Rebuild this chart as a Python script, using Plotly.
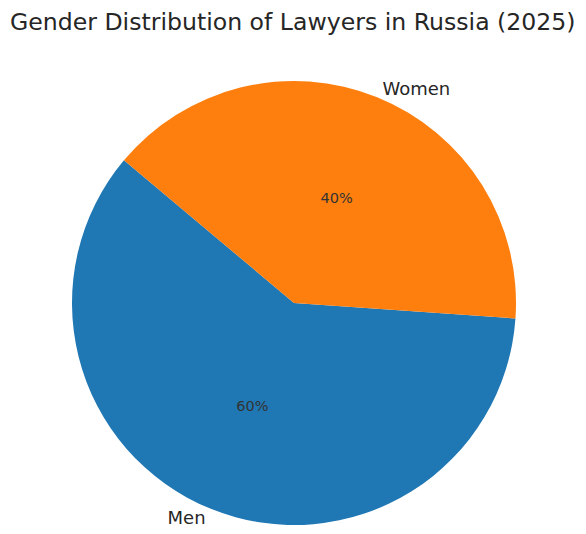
import plotly.graph_objects as go

labels = ["Men", "Women"]
values = [60, 40]
colors = ["#1f77b4", "#ff7f0e"]
title = "Gender Distribution of Lawyers in Russia (2025)"

W, H = 586, 534
# page body has an 8px offset; target centre in the picture is (294, 303)
cx, cy, d = 286, 295, 444
xdom = [(cx - d / 2) / W, (cx + d / 2) / W]
ydom = [1 - (cy + d / 2) / H, 1 - (cy - d / 2) / H]

common = dict(labels=labels, values=values, sort=False,
              direction="counterclockwise", rotation=94,
              domain=dict(x=xdom, y=ydom), showlegend=False)

fig = go.Figure()
# main pie with percentages inside
fig.add_trace(go.Pie(
    **common,
    marker=dict(colors=colors, line=dict(width=0)),
    textinfo="percent", texttemplate="%{percent:.0%}", textposition="inside",
    insidetextorientation="horizontal",
    textfont=dict(family="DejaVu Sans", size=14.5, color="#333333"),
    hoverinfo="label+percent",
))
# transparent overlay for outside labels
fig.add_trace(go.Pie(
    **common,
    marker=dict(colors=["rgba(0,0,0,0)"] * 2, line=dict(width=0)),
    textinfo="label", textposition="outside",
    textfont=dict(family="DejaVu Sans", size=18, color="#262626"),
    hoverinfo="skip",
))

fig.update_layout(
    width=W, height=H,
    margin=dict(l=0, r=0, t=0, b=0),
    paper_bgcolor="white",
    title=dict(text=title, x=2 / W, xanchor="left", y=1 - 14 / H, yanchor="middle",
               font=dict(family="DejaVu Sans", size=23.6, color="#262626")),
)

fig.write_html("out.html")
